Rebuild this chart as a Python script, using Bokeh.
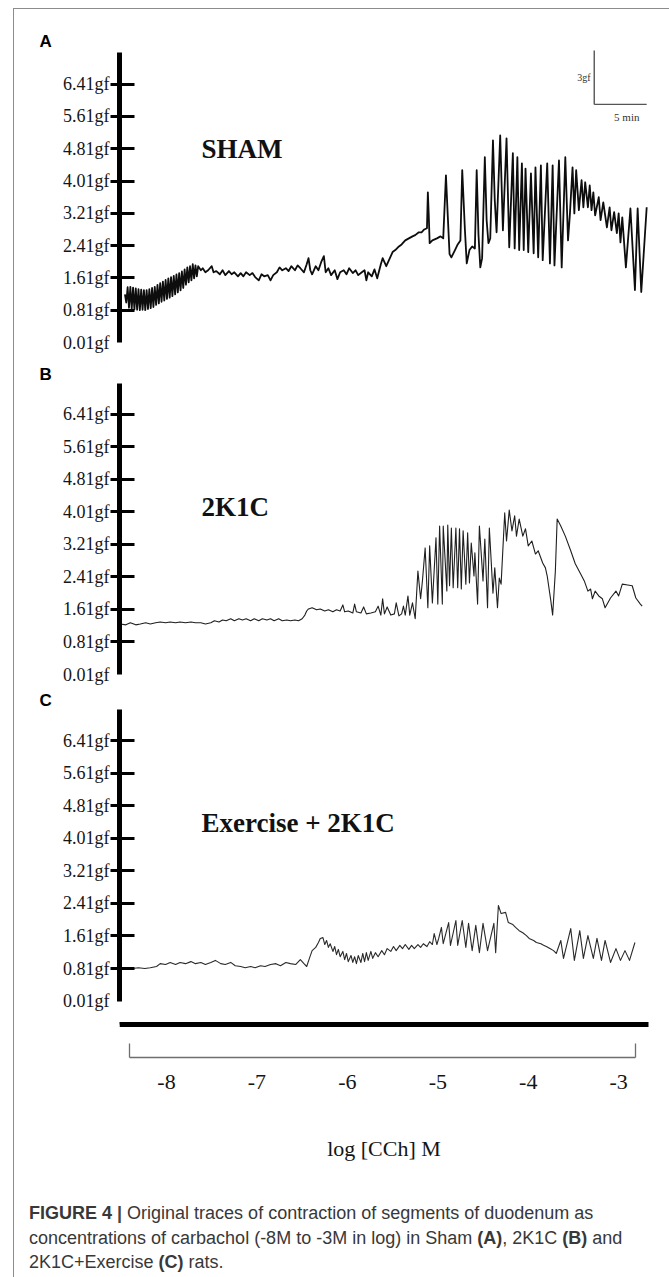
from bokeh.plotting import figure
from bokeh.models import Range1d, LinearAxis, FixedTicker, Label, Div
from bokeh.layouts import column
from bokeh.embed import file_html
from bokeh.resources import INLINE

# ---------------- data ----------------
PANELS = ["A", "B", "C"]
GROUPS = ["SHAM", "2K1C", "Exercise + 2K1C"]
GF_TICKS = [0.01, 0.81, 1.61, 2.41, 3.21, 4.01, 4.81, 5.61, 6.41]
GF_LABELS = ["0.01gf", "0.81gf", "1.61gf", "2.41gf", "3.21gf", "4.01gf", "4.81gf", "5.61gf", "6.41gf"]
GF_MARKS = [0.81, 1.61, 2.41, 3.21, 4.01, 4.81, 5.61, 6.41]
LOG_TICKS = [-8, -7, -6, -5, -4, -3]
LOG_LABELS = ["-8", "-7", "-6", "-5", "-4", "-3"]
X_TITLE = "log [CCh] M"
SCALE_TEXT = ["3gf", "5 min"]

SHAM_X = [
    -8.460, -8.445, -8.430, -8.415, -8.400, -8.385, -8.370, -8.355, -8.340, -8.325,
    -8.310, -8.295, -8.280, -8.265, -8.250, -8.235, -8.220, -8.205, -8.190, -8.175,
    -8.160, -8.145, -8.130, -8.115, -8.100, -8.085, -8.070, -8.055, -8.040, -8.025,
    -8.010, -7.995, -7.980, -7.965, -7.950, -7.935, -7.920, -7.905, -7.890, -7.875,
    -7.860, -7.845, -7.830, -7.815, -7.800, -7.785, -7.770, -7.755, -7.740, -7.725,
    -7.710, -7.695, -7.680, -7.665, -7.650,
    -7.62, -7.60, -7.57, -7.54, -7.50, -7.48, -7.45, -7.41, -7.38, -7.35,
    -7.31, -7.28, -7.25, -7.21, -7.18, -7.15, -7.12, -7.08, -7.05, -7.02,
    -6.98, -6.95, -6.92, -6.88, -6.85, -6.82, -6.78, -6.75, -6.72, -6.68,
    -6.65, -6.62, -6.58, -6.55, -6.52, -6.48, -6.45, -6.43, -6.41, -6.39,
    -6.35, -6.32, -6.29, -6.26, -6.24, -6.21, -6.18, -6.14, -6.11, -6.08,
    -6.04, -6.01, -5.98, -5.94, -5.91, -5.88, -5.84, -5.81, -5.79, -5.77,
    -5.73, -5.70, -5.67, -5.63, -5.61, -5.59,
    -5.57, -5.53, -5.50, -5.47, -5.43, -5.40, -5.36, -5.32, -5.28, -5.25,
    -5.21, -5.18, -5.15, -5.12, -5.11, -5.10, -5.09, -5.06, -5.01, -4.97,
    -4.94, -4.91, -4.89, -4.87, -4.85, -4.81, -4.78, -4.75, -4.73, -4.70,
    -4.68, -4.65, -4.62, -4.59, -4.57, -4.55, -4.53, -4.51, -4.48, -4.46,
    -4.44, -4.42, -4.39, -4.37, -4.35, -4.31, -4.28, -4.24, -4.21, -4.17,
    -4.15, -4.12, -4.10, -4.07, -4.05, -4.03, -4.00, -3.97, -3.94, -3.92,
    -3.89, -3.86, -3.84, -3.79, -3.76, -3.73, -3.71, -3.66, -3.63, -3.59,
    -3.56, -3.54, -3.51, -3.49, -3.47, -3.44, -3.41, -3.39, -3.37, -3.34,
    -3.32, -3.30, -3.28, -3.26, -3.22, -3.20, -3.17, -3.13, -3.10, -3.08,
    -3.05, -3.02, -3.00, -2.98, -2.96, -2.92, -2.87, -2.82, -2.79, -2.75,
    -2.69]
SHAM_Y = [
    1.20, 1.00, 1.38, 0.87, 1.39, 0.84, 1.37, 0.83, 1.35, 0.82,
    1.33, 0.81, 1.32, 0.82, 1.31, 0.81, 1.31, 0.84, 1.33, 0.86,
    1.36, 0.89, 1.39, 0.94, 1.44, 0.98, 1.48, 1.02, 1.52, 1.05,
    1.56, 1.09, 1.60, 1.12, 1.63, 1.16, 1.66, 1.20, 1.70, 1.25,
    1.73, 1.30, 1.77, 1.36, 1.82, 1.44, 1.87, 1.50, 1.90, 1.55,
    1.95, 1.60, 1.92, 1.65, 1.90,
    1.80, 1.85, 1.75, 1.80, 1.90, 1.75, 1.78, 1.70, 1.80, 1.68,
    1.78, 1.70, 1.75, 1.65, 1.73, 1.65, 1.75, 1.68, 1.73, 1.63,
    1.55, 1.70, 1.65, 1.68, 1.55, 1.68, 1.75, 1.87, 1.80, 1.85,
    1.78, 1.90, 1.80, 1.92, 1.85, 1.75, 1.95, 2.10, 1.80, 1.70,
    1.90, 1.80, 2.00, 2.15, 1.75, 1.85, 1.68, 1.80, 1.58, 1.75,
    1.80, 1.70, 1.85, 1.73, 1.80, 1.68, 1.75, 1.80, 1.55, 1.75,
    1.65, 1.82, 1.60, 1.95, 2.10, 2.00,
    1.90, 2.10, 2.25, 2.30, 2.39, 2.44, 2.54, 2.59, 2.64, 2.67,
    2.74, 2.74, 2.81, 2.84, 3.73, 3.16, 2.47, 2.54, 2.59, 2.64,
    2.59, 4.15, 3.16, 2.20, 2.12, 2.30, 2.44, 2.54, 4.28, 2.79,
    1.97, 2.30, 2.39, 2.34, 4.28, 2.67, 1.87, 2.10, 4.60, 3.04,
    2.47, 2.59, 5.02, 3.53, 2.74, 5.14, 2.79, 5.07, 2.37, 4.70,
    2.34, 4.60, 2.30, 4.45, 2.30, 4.32, 2.25, 4.20, 2.22, 4.35,
    2.12, 4.40, 2.05, 4.45, 1.97, 4.40, 1.92, 4.52, 1.87, 4.60,
    2.54, 3.16, 4.35, 3.21, 4.28, 3.29, 4.03, 3.36, 3.98, 3.36,
    3.90, 3.29, 3.73, 3.16, 3.61, 3.04, 3.48, 2.86, 3.36, 2.79,
    3.24, 2.72, 3.21, 2.49, 3.11, 1.87, 3.33, 1.31, 3.33, 1.26,
    3.36]

K2C_X = [
    -8.51, -8.45, -8.40, -8.34, -8.29, -8.23, -8.18, -8.12, -8.07, -8.01,
    -7.96, -7.90, -7.85, -7.79, -7.73, -7.68, -7.62, -7.57, -7.51, -7.47,
    -7.42, -7.38, -7.34, -7.29, -7.25, -7.20, -7.16, -7.12, -7.07, -7.03,
    -6.98, -6.94, -6.89, -6.85, -6.81, -6.76, -6.72, -6.67, -6.63, -6.58,
    -6.54, -6.50, -6.47, -6.45, -6.43, -6.39, -6.34, -6.30, -6.25, -6.21,
    -6.16, -6.12, -6.08, -6.05, -6.03, -5.99, -5.94, -5.92, -5.90, -5.85,
    -5.82, -5.79, -5.74, -5.69, -5.66, -5.63, -5.61, -5.59, -5.56, -5.52,
    -5.48, -5.46, -5.43, -5.40, -5.38, -5.36, -5.33, -5.31, -5.28, -5.25,
    -5.22, -5.19, -5.17, -5.14, -5.11, -5.09, -5.06, -5.02, -5.00, -4.98,
    -4.95, -4.94, -4.90, -4.89, -4.87, -4.85, -4.83, -4.80, -4.78, -4.76,
    -4.74, -4.72, -4.69, -4.67, -4.65, -4.63, -4.60, -4.59, -4.56, -4.54,
    -4.50, -4.48, -4.45, -4.43, -4.39, -4.37, -4.34, -4.32, -4.30, -4.26,
    -4.24, -4.21, -4.18, -4.15, -4.13, -4.10, -4.06, -4.03, -4.00, -3.96,
    -3.92, -3.89, -3.84, -3.81, -3.79, -3.75, -3.73, -3.70, -3.68, -3.64,
    -3.59, -3.53, -3.48, -3.42, -3.38, -3.34, -3.31, -3.29, -3.26, -3.22,
    -3.18, -3.15, -3.09, -3.03, -3.00, -2.96, -2.90, -2.85, -2.81, -2.76,
    -2.74]
K2C_Y = [
    1.25, 1.23, 1.28, 1.23, 1.25, 1.28, 1.25, 1.28, 1.30, 1.28,
    1.30, 1.28, 1.30, 1.28, 1.30, 1.28, 1.28, 1.25, 1.28, 1.33,
    1.30, 1.35, 1.33, 1.38, 1.33, 1.38, 1.35, 1.38, 1.33, 1.38,
    1.33, 1.38, 1.35, 1.38, 1.33, 1.38, 1.33, 1.35, 1.33, 1.35,
    1.33, 1.38, 1.47, 1.57, 1.62, 1.65, 1.60, 1.62, 1.57, 1.60,
    1.55, 1.60, 1.57, 1.72, 1.55, 1.57, 1.52, 1.74, 1.55, 1.52,
    1.67, 1.50, 1.52, 1.55, 1.69, 1.47, 1.87, 1.50, 1.67, 1.47,
    1.50, 1.77, 1.45, 1.50, 1.69, 1.47, 1.94, 1.47, 1.77, 1.38,
    2.55, 1.87, 2.31, 3.12, 1.65, 3.17, 1.77, 3.37, 1.74, 3.66,
    1.74, 3.66, 2.06, 3.68, 2.19, 3.61, 2.14, 3.61, 2.14, 3.59,
    2.11, 3.54, 2.23, 3.49, 2.26, 3.24, 2.43, 3.00, 1.74, 3.66,
    2.31, 3.34, 1.65, 3.61, 2.01, 2.63, 1.65, 2.38, 2.23, 3.98,
    3.29, 4.05, 3.54, 3.91, 3.41, 3.83, 3.41, 3.59, 3.17, 3.29,
    2.97, 3.05, 2.75, 2.63, 2.43, 1.82, 1.47, 2.55, 3.83, 3.66,
    3.41, 3.05, 2.73, 2.48, 2.31, 2.06, 2.11, 1.87, 2.06, 1.94,
    1.87, 1.65, 1.89, 2.06, 1.94, 2.23, 2.21, 2.19, 1.89, 1.74,
    1.69]

EX_X = [
    -8.51, -8.44, -8.38, -8.31, -8.24, -8.18, -8.11, -8.07, -8.01, -7.96,
    -7.90, -7.85, -7.79, -7.73, -7.68, -7.62, -7.57, -7.51, -7.46, -7.40,
    -7.35, -7.29, -7.24, -7.18, -7.13, -7.07, -7.02, -6.96, -6.91, -6.85,
    -6.79, -6.74, -6.68, -6.63, -6.57, -6.52, -6.48, -6.45, -6.42, -6.39,
    -6.35, -6.32, -6.30, -6.27, -6.25, -6.23, -6.21, -6.19, -6.16, -6.14,
    -6.12, -6.10, -6.08, -6.05, -6.03, -6.01, -5.99, -5.96, -5.94, -5.92,
    -5.90, -5.88, -5.85, -5.83, -5.81, -5.79, -5.77, -5.74, -5.72, -5.69,
    -5.66, -5.62, -5.59, -5.56, -5.52, -5.49, -5.46, -5.42, -5.39, -5.36,
    -5.32, -5.29, -5.26, -5.22, -5.19, -5.16, -5.12, -5.09, -5.06, -5.04,
    -5.01, -4.99, -4.96, -4.94, -4.88, -4.86, -4.80, -4.78, -4.73, -4.69,
    -4.66, -4.62, -4.58, -4.54, -4.50, -4.45, -4.38, -4.36, -4.33, -4.30,
    -4.25, -4.22, -4.17, -4.14, -4.10, -4.06, -4.02, -3.99, -3.94, -3.91,
    -3.86, -3.83, -3.80, -3.76, -3.72, -3.69, -3.64, -3.61, -3.53, -3.49,
    -3.43, -3.39, -3.34, -3.28, -3.24, -3.19, -3.15, -3.09, -3.03, -2.98,
    -2.93, -2.88, -2.82]
EX_Y = [
    0.83, 0.81, 0.81, 0.83, 0.81, 0.83, 0.86, 0.93, 0.91, 0.96,
    0.91, 0.96, 0.93, 0.98, 0.93, 0.96, 0.91, 0.96, 1.01, 0.93,
    0.91, 0.96, 0.88, 0.86, 0.83, 0.86, 0.83, 0.88, 0.86, 0.91,
    0.93, 0.88, 0.96, 0.93, 0.91, 1.03, 0.93, 0.86, 1.06, 1.25,
    1.33, 1.45, 1.55, 1.57, 1.40, 1.50, 1.33, 1.42, 1.23, 1.35,
    1.15, 1.28, 1.10, 1.23, 1.03, 1.18, 0.98, 1.13, 0.96, 1.10,
    0.93, 1.13, 0.96, 1.18, 0.98, 1.20, 1.01, 1.23, 1.06, 1.20,
    1.10, 1.25, 1.15, 1.30, 1.23, 1.35, 1.25, 1.38, 1.30, 1.40,
    1.28, 1.38, 1.30, 1.40, 1.33, 1.42, 1.35, 1.47, 1.40, 1.67,
    1.40, 1.55, 1.82, 1.42, 1.94, 1.38, 1.99, 1.38, 1.99, 1.33,
    1.92, 1.25, 1.87, 1.20, 1.92, 1.25, 1.92, 1.20, 2.36, 2.16,
    2.19, 1.94, 1.89, 1.82, 1.74, 1.69, 1.62, 1.55, 1.50, 1.45,
    1.42, 1.38, 1.35, 1.30, 1.25, 1.18, 1.50, 1.06, 1.79, 1.01,
    1.74, 1.06, 1.62, 1.06, 1.55, 1.01, 1.50, 0.96, 1.30, 1.01,
    1.25, 1.01, 1.45]

TRACES_X = [SHAM_X, K2C_X, EX_X]
TRACES_Y = [SHAM_Y, K2C_Y, EX_Y]

CAPTION_LINES = [
    "<b>FIGURE 4</b> <b style='color:#444444'>|</b> Original traces of contraction of segments of duodenum as",
    "concentrations of carbachol (-8M to -3M in log) in Sham <b>(A)</b>, 2K1C <b>(B)</b> and",
    "2K1C+Exercise <b>(C)</b> rats.",
]

# ---------------- layout / style ----------------
SERIF = "Liberation Serif"
SANS = "Liberation Sans"
X_RANGE = (-8.52, -2.67)
Y_RANGES = [(0.01, 7.245), (0.01, 7.16), (-0.565, 7.174)]
Y_BOUNDS = [(0.01, 7.20), (0.01, 7.16), (0.01, 7.17)]
HEIGHTS = [346, 331, 489]
MIN_TOP = [41, 28, 23]
MIN_BOTTOM = [13, 12, 151]
GROUP_POS = [(-7.613, 4.80), (-7.613, 4.13), (-7.613, 4.39)]
TRACE_WIDTH = [1.8, 1.1, 1.1]
TRACE_COLOR = ["#0d0d0d", "#1f1f1f", "#2a2a2a"]
W = 651

x_range = Range1d(*X_RANGE)
figs = []
for i in range(3):
    p = figure(width=W, height=HEIGHTS[i], x_range=x_range,
               y_range=Range1d(*Y_RANGES[i]),
               output_backend="svg", toolbar_location=None,
               x_axis_location="below" if i == 2 else None,
               y_axis_location="left",
               min_border_left=105, min_border_right=17,
               min_border_top=MIN_TOP[i], min_border_bottom=MIN_BOTTOM[i],
               title=PANELS[i])
    p.grid.visible = False
    p.outline_line_color = None
    p.background_fill_color = "white"
    p.border_fill_color = "white"

    t = p.title
    t.align = "left"
    t.offset = -80
    t.standoff = 0
    t.text_font = SANS
    t.text_font_style = "bold"
    t.text_font_size = "17px"
    t.text_color = "black"

    ya = p.yaxis[0]
    # labels on every value; visible tick marks only where the original has them
    ya.ticker = FixedTicker(ticks=GF_TICKS, minor_ticks=GF_MARKS)
    ya.major_label_overrides = {v: s for v, s in zip(GF_TICKS, GF_LABELS)}
    ya.bounds = Y_BOUNDS[i]
    ya.axis_line_width = 5
    ya.axis_line_color = "black"
    ya.major_tick_line_color = None
    ya.major_tick_in = 0
    ya.major_tick_out = 9
    ya.minor_tick_line_color = "black"
    ya.minor_tick_line_width = 3
    ya.minor_tick_in = 15
    ya.minor_tick_out = 9
    ya.major_label_standoff = 1
    ya.major_label_text_font = SERIF
    ya.major_label_text_font_size = "18px"
    ya.major_label_text_color = "#151515"

    p.line(TRACES_X[i], TRACES_Y[i], line_color=TRACE_COLOR[i],
           line_width=TRACE_WIDTH[i], line_join="round")

    gx, gy = GROUP_POS[i]
    p.add_layout(Label(x=gx, y=gy, text=GROUPS[i], text_font=SERIF,
                       text_font_style="bold", text_font_size="27px",
                       text_baseline="middle", text_align="left",
                       text_color="#111111"))
    figs.append(p)

# scale bar in panel A (3 gf / 5 min)
pa = figs[0]
SB_X = [-3.27, -2.69]
SB_Y = [5.91, 7.30]
pa.segment(x0=[SB_X[0], SB_X[0]], y0=[SB_Y[0], SB_Y[0]],
           x1=[SB_X[0], SB_X[1]], y1=[SB_Y[1], SB_Y[0]],
           line_color="#555555", line_width=1.4)
pa.add_layout(Label(x=-3.31, y=6.58, text=SCALE_TEXT[0], text_font=SERIF,
                    text_font_size="10px", text_align="right",
                    text_baseline="middle", text_color="#333333"))
pa.add_layout(Label(x=-2.91, y=5.59, text=SCALE_TEXT[1], text_font=SERIF,
                    text_font_size="11px", text_align="center",
                    text_baseline="middle", text_color="#333333"))

# x axes for panel C: thick rule, bracket, then concentration labels
pc = figs[2]
xa = pc.xaxis[0]
xa.ticker = FixedTicker(ticks=[-8.515])
xa.axis_line_width = 5
xa.axis_line_color = "black"
xa.major_tick_in = 0
xa.major_tick_out = 33
xa.major_tick_line_color = "white"
xa.major_tick_line_width = 0.5
xa.minor_tick_line_color = None
xa.major_label_text_color = None

BRACKET = [-8.41, -2.81]
br = LinearAxis(ticker=FixedTicker(ticks=BRACKET), bounds=(BRACKET[0], BRACKET[1]),
                axis_line_color="#6e6e6e", axis_line_width=1.3,
                major_tick_in=14, major_tick_out=0,
                major_tick_line_color="#6e6e6e", major_tick_line_width=1.3,
                minor_tick_line_color=None, major_label_text_color=None)
pc.add_layout(br, "below")

lab = LinearAxis(ticker=FixedTicker(ticks=LOG_TICKS),
                 major_label_overrides={v: s for v, s in zip(LOG_TICKS, LOG_LABELS)},
                 axis_line_color=None, major_tick_line_color=None,
                 major_tick_in=0, major_tick_out=0, minor_tick_line_color=None,
                 major_label_standoff=17,
                 major_label_text_font=SERIF, major_label_text_font_size="22px",
                 major_label_text_color="#151515",
                 axis_label=X_TITLE, axis_label_standoff=44,
                 axis_label_text_font=SERIF, axis_label_text_font_style="normal",
                 axis_label_text_font_size="22px", axis_label_text_color="#151515")
pc.add_layout(lab, "below")

caption_html = ("<div style=\"font-family:'Liberation Sans',Arial,sans-serif;"
                "font-size:18px;line-height:24.5px;color:#383838;white-space:nowrap;"
                "padding:21px 0 0 10px;\">" + "<br>".join(CAPTION_LINES) + "</div>")
caption = Div(text=caption_html, width=W, height=94)

layout = column(*figs, caption, spacing=0, margin=(8, 0, 0, 13),
                styles={"border": "1px solid #8c8c8c", "border-bottom": "none"})

open("out.html", "w").write(file_html(layout, INLINE, title="Figure 4"))
